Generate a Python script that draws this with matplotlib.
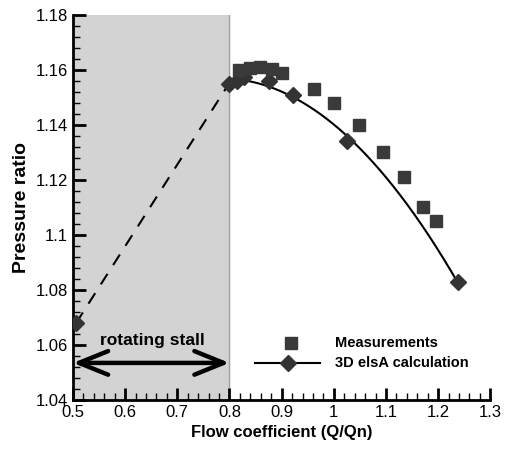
import numpy as np
import matplotlib.pyplot as plt
from matplotlib.ticker import MultipleLocator

plt.rcParams['font.family'] = ['Liberation Sans', 'DejaVu Sans']

# Measured compressor characteristic
q_meas = [0.819, 0.839, 0.858, 0.881, 0.901, 0.963, 1.000, 1.048, 1.095, 1.135, 1.171, 1.195]
p_meas = [1.160, 1.1607, 1.161, 1.1602, 1.159, 1.153, 1.148, 1.140, 1.130, 1.121, 1.110, 1.105]

# 3D elsA calculation points (first one is in rotating stall)
q_calc = [0.506, 0.799, 0.814, 0.828, 0.875, 0.921, 1.025, 1.238]
p_calc = [1.068, 1.155, 1.156, 1.1574, 1.156, 1.151, 1.134, 1.083]

stall_lo, stall_hi = 0.5, 0.8

fig = plt.figure(figsize=(5.07, 4.5), dpi=100)
ax = fig.add_axes([0.144, 0.111, 0.823, 0.856])

ax.axvspan(stall_lo, stall_hi, color='#d3d3d3', zorder=0)
ax.axvline(stall_hi, color='#a0a0a0', lw=1, zorder=1)

# smooth curve through the stable calculation points
coef = np.polyfit(q_calc[1:], p_calc[1:], 2)
qq = np.linspace(q_calc[1], q_calc[-1], 200)
ax.plot(qq, np.polyval(coef, qq), color='black', lw=1.5, zorder=2)
ax.plot(q_calc[:2], p_calc[:2], color='black', lw=1.5, ls=(0, (6, 5)), zorder=2)
ax.plot(q_calc, p_calc, ls='none', marker='D', ms=8, color='#333333', zorder=3)
ax.plot(q_meas, p_meas, ls='none', marker='s', ms=9, color='#3a3a3a', zorder=3)

# rotating stall arrow
ax.annotate('', xy=(stall_lo, 1.0535), xytext=(stall_hi, 1.0535),
            arrowprops=dict(arrowstyle='<->,head_length=2.1,head_width=0.85',
                            lw=3.2, color='black', shrinkA=0, shrinkB=0,
                            mutation_scale=10))
ax.text(0.653, 1.0615, 'rotating stall', ha='center', va='center',
        fontsize=12.5, fontweight='bold')

# legend drawn by hand
ax.plot([0.917], [1.0607], ls='none', marker='s', ms=9, color='#3a3a3a')
ax.plot([0.848, 0.974], [1.0536, 1.0536], color='black', lw=1.5)
ax.plot([0.913], [1.0536], ls='none', marker='D', ms=8, color='#333333')
ax.text(1.003, 1.0607, 'Measurements', ha='left', va='center', fontsize=10.5, fontweight='bold')
ax.text(1.003, 1.0536, '3D elsA calculation', ha='left', va='center', fontsize=10.5, fontweight='bold')

ax.set_xlim(0.5, 1.3)
ax.set_ylim(1.04, 1.18)
ax.xaxis.set_minor_locator(MultipleLocator(0.02))
ax.yaxis.set_minor_locator(MultipleLocator(0.004))
ax.set_xticks(np.arange(0.5, 1.31, 0.1))
ax.set_xticklabels(['0.5', '0.6', '0.7', '0.8', '0.9', '1', '1.1', '1.2', '1.3'])
ax.set_yticks(np.arange(1.04, 1.181, 0.02))
ax.set_yticklabels(['1.04', '1.06', '1.08', '1.1', '1.12', '1.14', '1.16', '1.18'])
ax.tick_params(which='major', direction='in', length=9, width=2, labelsize=12)
ax.tick_params(which='minor', direction='in', length=5, width=1)
for s in ['top', 'right']:
    ax.spines[s].set_visible(False)
for s in ['left', 'bottom']:
    ax.spines[s].set_linewidth(2)

ax.set_xlabel('Flow coefficient (Q/Qn)', fontsize=12, fontweight='bold')
ax.set_ylabel('Pressure ratio', fontsize=14, fontweight='bold')

fig.savefig('out.png', dpi=100)
